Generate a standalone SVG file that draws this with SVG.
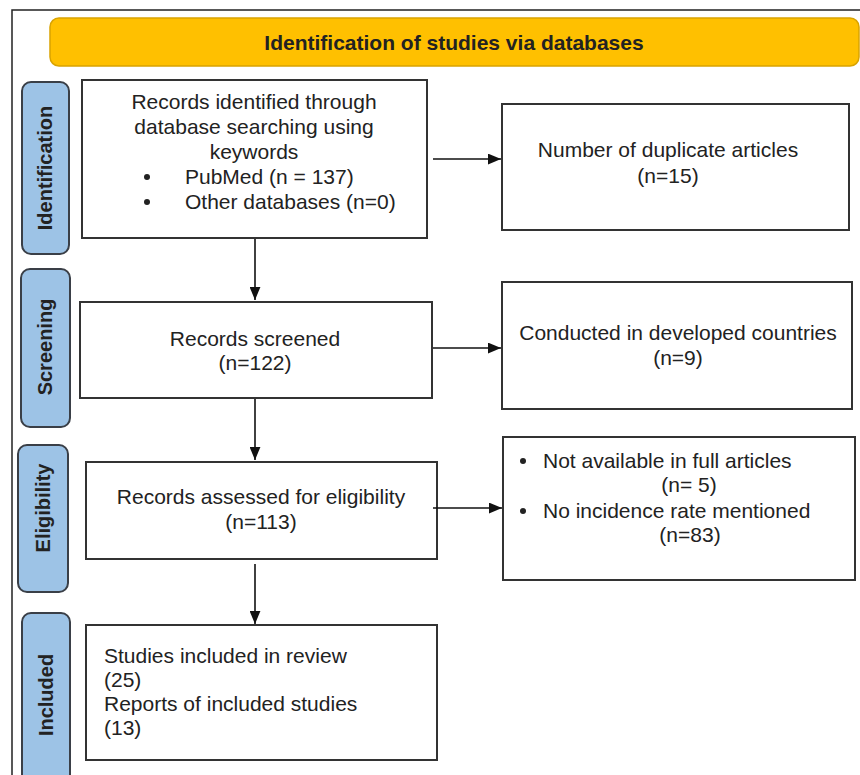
<svg xmlns="http://www.w3.org/2000/svg" width="860" height="775" viewBox="0 0 860 775">
<style>
.box{fill:#fff;stroke:#333;stroke-width:2}
.side{fill:#9DC3E6;stroke:#3a3f47;stroke-width:2}
.t{font-family:"Liberation Sans",Arial,sans-serif;font-size:21px;fill:#222}
.c{text-anchor:middle}
.lbl{font-family:"Liberation Sans",Arial,sans-serif;font-size:20px;font-weight:bold;fill:#222;text-anchor:middle;dominant-baseline:central}
.ln{stroke:#111;stroke-width:1.6;fill:none}
.dot{fill:#222}
</style>
<defs>
<marker id="ah" viewBox="0 0 12 10" refX="12" refY="5" markerWidth="13" markerHeight="11" markerUnits="userSpaceOnUse" orient="auto">
<path d="M0,0 L12,5 L0,10 z" fill="#111"/>
</marker>
</defs>
<rect width="860" height="775" fill="#fff"/>
<g id="frame">
<path d="M12,775 V10 H860" fill="none" stroke="#222" stroke-width="1.5"/>
</g>
<g id="header">
<rect x="50" y="18" width="809" height="48" rx="9" fill="#FFC000" stroke="#D9A300" stroke-width="1.5"/>
<text x="454" y="50" class="t c" style="font-weight:bold;font-size:21px">Identification of studies via databases</text>
</g>
<g id="lbl-identification">
<rect x="22" y="82" width="47" height="172" rx="9" class="side"/>
<text class="lbl" transform="translate(45,168) rotate(-90)">Identification</text>
</g>
<g id="lbl-screening">
<rect x="21" y="269" width="49" height="158" rx="9" class="side"/>
<text class="lbl" transform="translate(45,347) rotate(-90)">Screening</text>
</g>
<g id="lbl-eligibility">
<rect x="18" y="445" width="50" height="147" rx="9" class="side"/>
<text class="lbl" transform="translate(43,508) rotate(-90)">Eligibility</text>
</g>
<g id="lbl-included">
<rect x="22" y="613" width="48" height="180" rx="9" class="side"/>
<text class="lbl" transform="translate(46,695) rotate(-90)">Included</text>
</g>
<g id="records-identified">
<rect x="82" y="80" width="345" height="158" class="box"/>
<text class="t c" x="254" y="109">Records identified through</text>
<text class="t c" x="254" y="134">database searching using</text>
<text class="t c" x="254" y="159">keywords</text>
<circle cx="147" cy="177" r="3" class="dot"/>
<text class="t" x="185" y="184">PubMed (n = 137)</text>
<circle cx="147" cy="202" r="3" class="dot"/>
<text class="t" x="185" y="209">Other databases (n=0)</text>
</g>
<g id="duplicates">
<rect x="502" y="104" width="347" height="126" class="box"/>
<text class="t c" x="668" y="157">Number of duplicate articles</text>
<text class="t c" x="668" y="183">(n=15)</text>
</g>
<g id="screened">
<rect x="80" y="302" width="352" height="96" class="box"/>
<text class="t c" x="255" y="346">Records screened</text>
<text class="t c" x="255" y="370">(n=122)</text>
</g>
<g id="developed">
<rect x="502" y="282" width="350" height="127" class="box"/>
<text class="t c" x="678" y="340">Conducted in developed countries</text>
<text class="t c" x="678" y="365">(n=9)</text>
</g>
<g id="eligibility">
<rect x="86" y="462" width="351" height="97" class="box"/>
<text class="t c" x="261" y="504">Records assessed for eligibility</text>
<text class="t c" x="261" y="529">(n=113)</text>
</g>
<g id="excluded">
<rect x="503" y="437" width="352" height="143" class="box"/>
<circle cx="523" cy="461" r="3" class="dot"/>
<text class="t" x="543" y="468">Not available in full articles</text>
<text class="t c" x="689" y="492">(n= 5)</text>
<circle cx="523" cy="511" r="3" class="dot"/>
<text class="t" x="543" y="518">No incidence rate mentioned</text>
<text class="t c" x="690" y="542">(n=83)</text>
</g>
<g id="included">
<rect x="86" y="625" width="351" height="135" class="box"/>
<text class="t" x="104" y="663">Studies included in review</text>
<text class="t" x="104" y="687">(25)</text>
<text class="t" x="104" y="711">Reports of included studies</text>
<text class="t" x="104" y="735">(13)</text>
</g>
<g id="connectors">
<line class="ln" x1="433" y1="159" x2="501" y2="159" marker-end="url(#ah)"/>
<line class="ln" x1="255" y1="239" x2="255" y2="300" marker-end="url(#ah)"/>
<line class="ln" x1="433" y1="348" x2="501" y2="348" marker-end="url(#ah)"/>
<line class="ln" x1="255" y1="399" x2="255" y2="460" marker-end="url(#ah)"/>
<line class="ln" x1="433" y1="508" x2="502" y2="508" marker-end="url(#ah)"/>
<line class="ln" x1="255" y1="564" x2="255" y2="624" marker-end="url(#ah)"/>
</g>
</svg>
